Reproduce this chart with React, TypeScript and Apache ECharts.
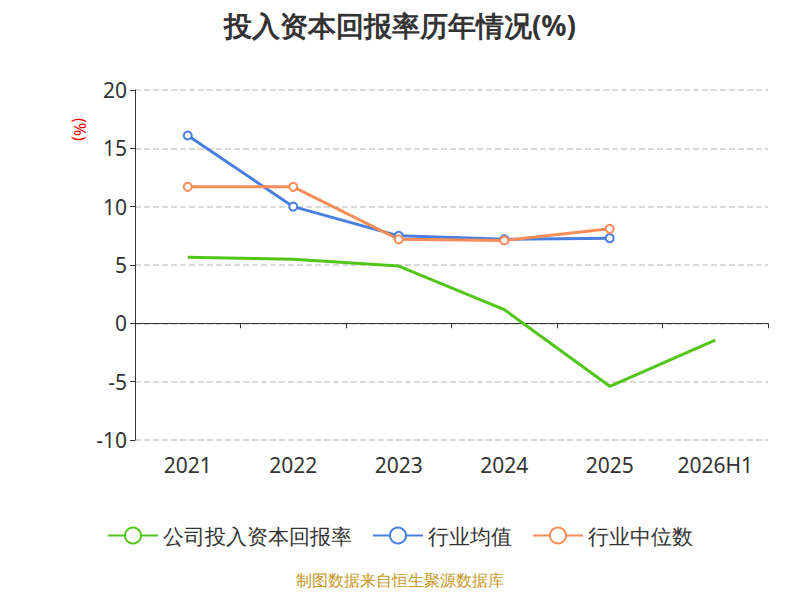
import React, { useEffect, useRef } from 'react';
import * as echarts from 'echarts';

const years = ['2021', '2022', '2023', '2024', '2025', '2026H1'];
const company = [5.67, 5.49, 4.91, 1.18, -5.4, -1.43];
const industryAvg = [16.1, 10.0, 7.5, 7.2, 7.3, null];
const industryMedian = [11.7, 11.7, 7.2, 7.1, 8.1, null];

const App: React.FC = () => {
  const ref = useRef<HTMLDivElement>(null);

  useEffect(() => {
    if (!ref.current) return undefined;
    const chart = echarts.init(ref.current, null, { renderer: 'svg' });
    const font = '"Noto Sans", sans-serif';
    chart.setOption({
      animation: false,
      textStyle: { fontFamily: font },
      title: {
        text: '投入资本回报率历年情况(%)',
        left: 'center',
        top: -2,
        textStyle: { fontSize: 28, fontWeight: 'bold', color: '#333', fontFamily: font },
      },
      legend: {
        bottom: 41,
        itemWidth: 50,
        itemHeight: 20,
        itemGap: 20,
        textStyle: { fontSize: 21, color: '#333' },
        data: ['公司投入资本回报率', '行业均值', '行业中位数'],
      },
      graphic: [
        {
          type: 'text',
          left: 'center',
          bottom: 4,
          style: { text: '制图数据来自恒生聚源数据库', fill: '#c8961e', fontSize: 16, fontFamily: font },
        },
        {
          type: 'text',
          x: 80,
          y: 110,
          rotation: -Math.PI / 2,
          style: { text: '(%)', fill: '#e00', fontSize: 16, fontFamily: font },
        },
      ],
      grid: { left: 127, right: 24, top: 82, bottom: 152 },
      xAxis: {
        type: 'category',
        data: years,
        axisLine: { onZero: true, lineStyle: { color: '#333' } },
        axisTick: { show: true, lineStyle: { color: '#333' } },
        axisLabel: { fontSize: 21, color: '#333', margin: 14 },
      },
      yAxis: {
        type: 'value',
        min: -10,
        max: 20,
        interval: 5,
        axisLine: { show: true, lineStyle: { color: '#333' } },
        axisTick: { show: true },
        axisLabel: { fontSize: 21, color: '#333' },
        splitLine: { lineStyle: { type: 'dashed', color: '#ccc', width: 1.5 } },
      },
      series: [
        {
          name: '公司投入资本回报率',
          type: 'line',
          data: company,
          symbol: 'emptyCircle',
          showSymbol: false,
          itemStyle: { color: '#52c41a' },
          lineStyle: { width: 3 },
          label: { show: true, position: 'inside', fontSize: 21, color: '#111' },
          z: 3,
        },
        {
          name: '行业均值',
          type: 'line',
          data: industryAvg,
          symbol: 'emptyCircle',
          symbolSize: 8,
          itemStyle: { color: '#4a7ee0' },
          lineStyle: { width: 3 },
        },
        {
          name: '行业中位数',
          type: 'line',
          data: industryMedian,
          symbol: 'emptyCircle',
          symbolSize: 8,
          itemStyle: { color: '#f98d5a' },
          lineStyle: { width: 3 },
        },
      ],
    });
    return () => chart.dispose();
  }, []);

  return <div ref={ref} style={{ width: 784, height: 584 }} />;
};

export default App;
